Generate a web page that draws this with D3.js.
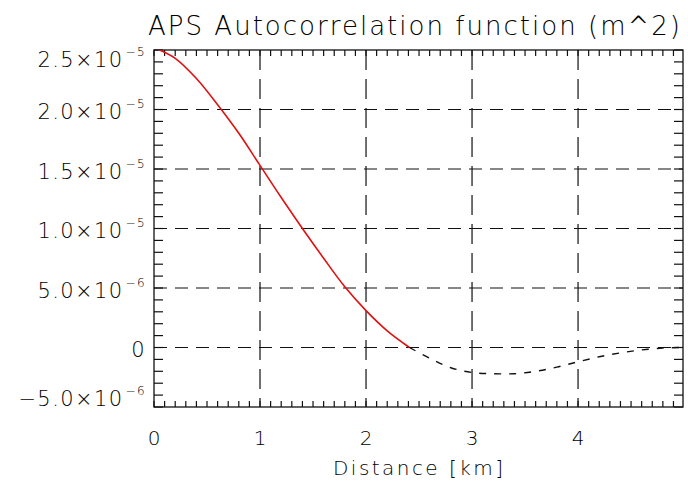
<!DOCTYPE html>
<html>
<head>
<meta charset="utf-8">
<script src="https://cdn.jsdelivr.net/npm/d3@7"></script>
<style>
  body { margin: 0; background: #fff; }
  text { font-family: "DejaVu Sans", sans-serif; font-weight: 200; fill: #000; }
</style>
</head>
<body>
<svg id="chart" width="688" height="481"></svg>
<script>
// chart data (distance in km, autocorrelation in m^2)
const distance = [0, 0.2, 0.4, 0.6, 0.8, 1.0, 1.2, 1.4, 1.6, 1.8, 2.0, 2.2, 2.41,
                  2.6, 2.8, 3.0, 3.2, 3.4, 3.6, 3.8, 4.0, 4.2, 4.4, 4.6, 4.8, 4.99];
const acf = [25.2e-6, 24.3e-6, 22.6e-6, 20.4e-6, 18.0e-6, 15.3e-6, 12.6e-6, 10.0e-6,
             7.5e-6, 5.1e-6, 3.1e-6, 1.4e-6, 0,
             -0.9e-6, -1.7e-6, -2.1e-6, -2.2e-6, -2.2e-6, -2.0e-6, -1.65e-6, -1.2e-6,
             -0.78e-6, -0.45e-6, -0.2e-6, -0.05e-6, 0];

const xTicks = [0, 1, 2, 3, 4];
const yTicks = [-5e-6, 0, 5e-6, 1e-5, 1.5e-5, 2e-5, 2.5e-5];
const yTickMant = ["\u22125.0\u00d710", "0", "5.0\u00d710", "1.0\u00d710", "1.5\u00d710", "2.0\u00d710", "2.5\u00d710"];
const yTickExp = ["\u22126", "", "\u22126", "\u22125", "\u22125", "\u22125", "\u22125"];

const title = "APS Autocorrelation function (m^2)";
const xTitle = "Distance [km]";

// layout
const margin = {top: 50, right: 5, bottom: 74, left: 154},
      width = 688, height = 481,
      plotW = width - margin.left - margin.right,
      plotH = height - margin.top - margin.bottom;

const svg = d3.select("#chart");

const x = d3.scaleLinear().domain([0, 4.99]).range([margin.left, margin.left + plotW]);
const y = d3.scaleLinear().domain([-5e-6, 2.5e-5]).range([margin.top + plotH, margin.top]);

svg.append("clipPath").attr("id", "plotclip")
  .append("rect")
    .attr("x", margin.left).attr("y", margin.top)
    .attr("width", plotW).attr("height", plotH);

// dashed grid at major ticks
svg.append("g").selectAll("line")
  .data(xTicks.slice(1))
  .join("line")
    .attr("x1", d => x(d)).attr("x2", d => x(d))
    .attr("y1", margin.top).attr("y2", margin.top + plotH)
    .attr("stroke", "#111").attr("stroke-width", 1.2)
    .attr("stroke-dasharray", "20,9");

svg.append("g").selectAll("line")
  .data(yTicks.slice(1, -1))
  .join("line")
    .attr("x1", margin.left).attr("x2", margin.left + plotW)
    .attr("y1", d => y(d)).attr("y2", d => y(d))
    .attr("stroke", "#111").attr("stroke-width", 1.2)
    .attr("stroke-dasharray", "13,8");

// minor ticks
const xMinor = d3.range(0, 4.99, 0.1);
const yMinor = d3.range(-5e-6, 2.5e-5 + 1e-9, 1e-6);
const ticks = svg.append("g").attr("stroke", "#111").attr("stroke-width", 1.2);
ticks.selectAll(".xb").data(xMinor).join("line").attr("class", "xb")
    .attr("x1", d => x(d)).attr("x2", d => x(d))
    .attr("y1", margin.top + plotH).attr("y2", margin.top + plotH - 6);
ticks.selectAll(".xt").data(xMinor).join("line").attr("class", "xt")
    .attr("x1", d => x(d)).attr("x2", d => x(d))
    .attr("y1", margin.top).attr("y2", margin.top + 6);
ticks.selectAll(".yl").data(yMinor).join("line").attr("class", "yl")
    .attr("x1", margin.left).attr("x2", margin.left + 9)
    .attr("y1", d => y(d)).attr("y2", d => y(d));
ticks.selectAll(".yr").data(yMinor).join("line").attr("class", "yr")
    .attr("x1", margin.left + plotW).attr("x2", margin.left + plotW - 9)
    .attr("y1", d => y(d)).attr("y2", d => y(d));

// frame
svg.append("rect")
    .attr("x", margin.left).attr("y", margin.top)
    .attr("width", plotW).attr("height", plotH)
    .attr("fill", "none").attr("stroke", "#111").attr("stroke-width", 1.3);

// curve: red where positive, black dashed where negative
const pts = distance.map((d, i) => [d, acf[i]]);
const line = d3.line().x(d => x(d[0])).y(d => y(d[1])).curve(d3.curveCatmullRom);
const curves = svg.append("g").attr("clip-path", "url(#plotclip)").attr("fill", "none");
curves.append("path")
    .attr("d", line(pts.filter(d => d[1] >= 0 && d[0] <= 2.41)))
    .attr("stroke", "#e01010").attr("stroke-width", 1.6);
curves.append("path")
    .attr("d", line(pts.filter(d => d[0] >= 2.41)))
    .attr("stroke", "#111").attr("stroke-width", 1.4)
    .attr("stroke-dasharray", "7,8");

// x tick labels
svg.append("g").selectAll("text")
  .data(xTicks)
  .join("text")
    .attr("x", d => x(d)).attr("y", 445)
    .attr("text-anchor", "middle")
    .attr("font-size", 20)
    .text(d => d);

// y tick labels (mantissa + superscript exponent)
const yl = svg.append("g").selectAll("text")
  .data(yTicks)
  .join("text")
    .attr("x", 146)
    .attr("y", (d, i) => i === yTicks.length - 1 ? 67 : i === 0 ? 406 : y(d) + 9.5)
    .attr("text-anchor", "end")
    .attr("font-size", 21)
    .attr("letter-spacing", 1.4);
yl.append("tspan").text((d, i) => yTickMant[i]);
yl.append("tspan")
    .attr("font-size", 12)
    .attr("dx", 2)
    .attr("dy", (d, i) => yTickExp[i] ? -11 : 0)
    .text((d, i) => yTickExp[i]);

// titles
svg.append("text")
    .attr("x", 414).attr("y", 35)
    .attr("text-anchor", "middle")
    .attr("font-size", 26)
    .attr("textLength", 532).attr("lengthAdjust", "spacing")
    .text(title);

svg.append("text")
    .attr("x", 418).attr("y", 475)
    .attr("text-anchor", "middle")
    .attr("font-size", 20)
    .attr("textLength", 170).attr("lengthAdjust", "spacing")
    .text(xTitle);
</script>
</body>
</html>
